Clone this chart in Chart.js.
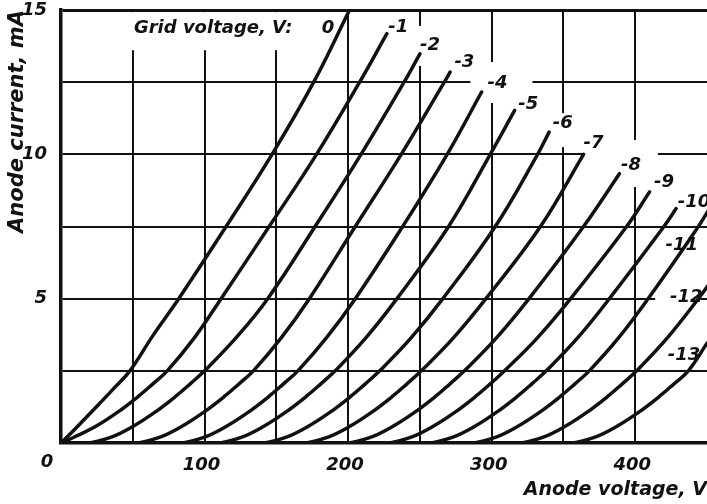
<!DOCTYPE html>
<html>
<head>
<meta charset="utf-8">
<script src="https://cdn.jsdelivr.net/npm/chart.js@4.4.1/dist/chart.umd.min.js"></script>
<style>
    html, body { margin: 0; padding: 0; background: #fff; }
    #wrap { width: 707px; height: 504px; position: relative; }
</style>
</head>
<body>
<div id="wrap"><canvas id="chart"></canvas></div>
<script>
// ============================================================
// Triode anode characteristics - one curve per grid voltage
// ============================================================

// grid voltage of each curve (V)
const gridVoltages = ['0', '-1', '-2', '-3', '-4', '-5', '-6', '-7', '-8', '-9', '-10', '-11', '-12', '-13'];

// [anode voltage V, anode current mA]
const curveG0  = [[0, 0], [12, 0.6], [24, 1.22], [36, 1.85], [48, 2.5], [64, 3.72], [82, 5], [115, 7.5], [147, 10], [176, 12.5], [201, 15]];
const curveG1  = [[0, 0], [9, 0.2], [24, 0.57], [39, 1.05], [54, 1.62], [64, 2.05], [74, 2.5], [93, 3.65], [111.5, 5], [145, 7.5], [178, 10], [208, 12.5], [227, 14.18]];
const curveG2  = [[20, 0], [35, 0.2], [50, 0.57], [65, 1.05], [80, 1.62], [90, 2.05], [100, 2.5], [122, 3.65], [144, 5], [177, 7.5], [209, 10], [239, 12.5], [250, 13.48]];
const curveG3  = [[54, 0], [69, 0.2], [84, 0.57], [99, 1.05], [114, 1.62], [124, 2.05], [134, 2.5], [153.5, 3.65], [173, 5], [205, 7.5], [237, 10], [267, 12.5], [271, 12.85]];
const curveG4  = [[85, 0], [100, 0.2], [115, 0.57], [130, 1.05], [145, 1.62], [155, 2.05], [165, 2.5], [185, 3.65], [205, 5], [238, 7.5], [269, 10], [293, 12.16]];
const curveG5  = [[111, 0], [126, 0.2], [141, 0.57], [156, 1.05], [171, 1.62], [181, 2.05], [191, 2.5], [212.5, 3.65], [234, 5], [270, 7.5], [299, 10], [316, 11.52]];
const curveG6  = [[142, 0], [157, 0.2], [172, 0.57], [187, 1.05], [202, 1.62], [212, 2.05], [222, 2.5], [244, 3.65], [266, 5], [302.5, 7.5], [332, 10], [340, 10.77]];
const curveG7  = [[171, 0], [186, 0.2], [201, 0.57], [216, 1.05], [231, 1.62], [241, 2.05], [251, 2.5], [273.5, 3.65], [296, 5], [334, 7.5], [364, 10]];
const curveG8  = [[201, 0], [216, 0.2], [231, 0.57], [246, 1.05], [261, 1.62], [271, 2.05], [281, 2.5], [303.5, 3.65], [326, 5], [364, 7.5], [389, 9.33]];
const curveG9  = [[229, 0], [244, 0.2], [259, 0.57], [274, 1.05], [289, 1.62], [299, 2.05], [309, 2.5], [332, 3.65], [355, 5], [394, 7.5], [410, 8.7]];
const curveG10 = [[258, 0], [273, 0.2], [288, 0.57], [303, 1.05], [318, 1.62], [328, 2.05], [338, 2.5], [360, 3.65], [382, 5], [420, 7.5], [428.5, 8.12]];
const curveG11 = [[288, 0], [303, 0.2], [318, 0.57], [333, 1.05], [348, 1.62], [358, 2.05], [368, 2.5], [388.5, 3.65], [409, 5], [444, 7.5], [455, 8.4]];
const curveG12 = [[321, 0], [336, 0.2], [351, 0.57], [366, 1.05], [381, 1.62], [391, 2.05], [401, 2.5], [422.5, 3.65], [444, 5], [455, 5.75]];
const curveG13 = [[357, 0], [372, 0.2], [387, 0.57], [402, 1.05], [417, 1.62], [427, 2.05], [437, 2.5], [450, 3.46], [455, 3.85]];

// labelled ticks
const xTickValues = [100, 200, 300, 400];
const yTickValues = [5, 10, 15];

// where each grid-voltage label sits, [V, mA]
const labelAt = [
    [186, 14.37], [235, 14.41], [257, 13.79], [281, 13.2], [304, 12.47],
    [325.5, 11.74], [349.5, 11.08], [371, 10.39], [397, 9.63], [420, 9.04],
    [441, 8.35], [432.5, 6.86], [435.5, 5.06], [434, 3.05]
];
const headerAt = [106, 14.37];

const curves = [curveG0, curveG1, curveG2, curveG3, curveG4, curveG5, curveG6,
                curveG7, curveG8, curveG9, curveG10, curveG11, curveG12, curveG13];

const INK = '#111';
const FACE = "'DejaVu Sans'";

// white boxes that break the grid behind some labels: px offsets from label centre [left, right, up, down]
const gridGaps = {
    header: [-93, 92, -16, 22],
    '-2': [-18, 18, -19, 21],
    '-4': [-27, 35, -21, 20],
    '-6': [-17, 16, -10, 24],
    '-7': [-10, 22, -10, 17],
    '-8': [-18, 27, -25, 22],
    '-12': [-31, 14, -9, 10]
};

const labelPlugin = {
    id: 'curveLabels',
    beforeDatasetsDraw(chart) {
        const { ctx, scales: { x, y } } = chart;
        ctx.save();
        ctx.fillStyle = '#fff';
        const gap = (px, py, g) => ctx.fillRect(px + g[0], py + g[2], g[1] - g[0], g[3] - g[2]);
        gap(x.getPixelForValue(headerAt[0]), y.getPixelForValue(headerAt[1]), gridGaps.header);
        gridVoltages.forEach((g, i) => {
            if (!gridGaps[g]) return;
            gap(x.getPixelForValue(labelAt[i][0]), y.getPixelForValue(labelAt[i][1]), gridGaps[g]);
        });
        ctx.restore();
    },
    afterDatasetsDraw(chart) {
        const { ctx, scales: { x, y } } = chart;
        ctx.save();
        ctx.fillStyle = INK;
        ctx.textAlign = 'center';
        ctx.textBaseline = 'middle';

        ctx.font = `italic bold 18px ${FACE}`;
        ctx.fillText('Grid voltage, V:', x.getPixelForValue(headerAt[0]), y.getPixelForValue(headerAt[1]));

        gridVoltages.forEach((g, i) => {
            ctx.fillText(g, x.getPixelForValue(labelAt[i][0]), y.getPixelForValue(labelAt[i][1]));
        });

        // shared origin label
        ctx.fillText('0', x.getPixelForValue(0) - 14, y.getPixelForValue(0) + 19);
        ctx.restore();
    }
};

const tickFont = { family: FACE, size: 18, style: 'italic', weight: 'bold' };

new Chart(document.getElementById('chart'), {
    type: 'line',
    data: {
        datasets: curves.map((c, i) => ({
            label: gridVoltages[i],
            data: c.map(p => ({ x: p[0], y: p[1] })),
            borderColor: INK,
            borderWidth: 3.5,
            borderCapStyle: 'round',
            pointRadius: 0,
            fill: false,
            tension: 0.4
        }))
    },
    options: {
        responsive: true,
        maintainAspectRatio: false,
        animation: false,
        layout: { padding: { top: 10, right: 0, left: 0, bottom: 0 } },
        plugins: { legend: { display: false }, tooltip: { enabled: false } },
        scales: {
            x: {
                type: 'linear', min: 0, max: 450,
                afterFit: s => { s.height = 61; s.paddingLeft = 0; s.paddingRight = 0; },
                border: { color: INK, width: 3.5 },
                grid: {
                    drawTicks: false,
                    color: c => (c.tick && c.tick.value % 50 === 0 && c.tick.value < 450) ? INK : 'rgba(0,0,0,0)',
                    lineWidth: 2
                },
                ticks: {
                    stepSize: 50, autoSkip: false, maxRotation: 0, padding: 12, labelOffset: -3,
                    color: INK, font: tickFont,
                    callback: v => xTickValues.includes(v) ? v : ''
                },
                title: {
                    display: true, text: 'Anode voltage, V', align: 'end', color: INK,
                    font: { family: FACE, size: 19, style: 'italic', weight: 'bold' },
                    padding: { top: 0, bottom: 3 }
                }
            },
            y: {
                type: 'linear', min: 0, max: 15,
                afterFit: s => { s.width = 61; s.paddingTop = 0; s.paddingBottom = 0; },
                border: { color: INK, width: 3.5 },
                grid: {
                    drawTicks: false,
                    color: INK,
                    lineWidth: c => (c.tick && c.tick.value === 15) ? 3 : 2
                },
                ticks: {
                    stepSize: 2.5, autoSkip: false, padding: 14,
                    color: INK, font: tickFont,
                    callback: v => yTickValues.includes(v) ? v : ''
                },
                title: {
                    display: true, text: 'Anode current, mA', align: 'end', color: INK,
                    font: { family: FACE, size: 21, style: 'italic', weight: 'bold' },
                    padding: { top: 5, bottom: 0 }
                }
            }
        }
    },
    plugins: [labelPlugin]
});
</script>
</body>
</html>
